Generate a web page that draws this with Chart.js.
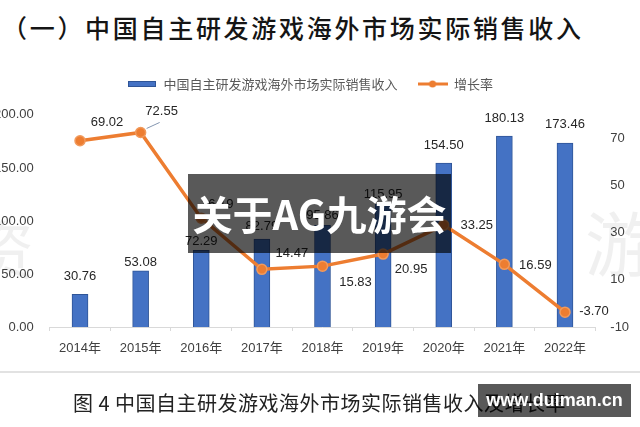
<!DOCTYPE html>
<html>
<head>
<meta charset="utf-8">
<script src="https://cdn.jsdelivr.net/npm/chart.js@4/dist/chart.umd.min.js"></script>
<style>
  html, body { margin:0; padding:0; background:#fff; width:640px; height:427px; overflow:hidden; position:relative; }
  #title { position:absolute; left:2px; top:9px; font-family:"Noto Sans CJK SC"; font-weight:500; font-size:25px; letter-spacing:2.7px; color:#151515; white-space:nowrap; line-height:36px; }
  #chart { position:absolute; left:-12px; top:0; }
  #sep { position:absolute; left:0; top:371px; width:640px; height:2px; background:#e2e2e2; }
  #caption { position:absolute; left:73px; top:389px; font-family:"Noto Sans CJK SC"; font-weight:400; font-size:20px; color:#222; white-space:nowrap; line-height:28px; letter-spacing:0.5px; }
  .wm { position:absolute; font-family:"Noto Sans CJK SC"; color:rgba(0,0,0,0.06); }
  #band { position:absolute; left:188px; top:174px; width:263px; height:79px; background:rgba(0,0,0,0.65); }
  #bandText { position:absolute; left:188px; top:174px; width:263px; height:79px; line-height:79px; text-align:center; font-family:"Noto Sans CJK SC"; font-weight:700; font-size:40px; color:#fff; white-space:nowrap; }
  #site { position:absolute; left:478px; top:384px; width:153px; height:33px; background:rgba(0,0,0,0.65); color:#fff; font-family:"Liberation Sans"; font-weight:700; font-size:18px; line-height:33px; text-align:center; }
</style>
</head>
<body>
<div id="title">（一）中国自主研发游戏海外市场实际销售收入</div>
<div class="wm" style="left:585px; top:190px; font-size:70px;">游</div>
<div class="wm" style="left:-30px; top:200px; font-size:64px;">资</div>
<canvas id="chart" width="660" height="427" style="width:660px;height:427px;"></canvas>
<div id="sep"></div>
<div id="caption">图 4 中国自主研发游戏海外市场实际销售收入及增长率</div>
<div id="band"></div>
<div id="bandText">关于AG九游会</div>
<div id="site">www.duiman.cn</div>
<script>
// ---- data ----
const years = ['2014年','2015年','2016年','2017年','2018年','2019年','2020年','2021年','2022年'];
const revenue = [30.76, 53.08, 72.29, 82.79, 95.86, 115.95, 154.50, 180.13, 173.46];
const growth = [69.02, 72.55, 36.19, 14.47, 15.83, 20.95, 33.25, 16.59, -3.70];
const revenueName = '中国自主研发游戏海外市场实际销售收入';
const growthName = '增长率';
const leftTicks = [0, 50, 100, 150, 200];
const rightTicks = [-10, 10, 30, 50, 70];

// ---- styling ----
const BLUE = '#4472C4', BLUE_DARK = '#2F5597', ORANGE = '#ED7D31';
const NUM_FONT = '"Liberation Sans", "Noto Sans CJK SC", sans-serif';

// label placement (pixel offsets relative to marks)
const barLabelGap = [18, 8, 9, 13, 10, 10, 18, 18, 19];
const lineLabelOffset = [[27,-18],[21,-21],[16,-14],[30,-16],[33,16],[28,15],[33,0],[31,1],[29,-1]];

function makeSwatch(kind) {
  const c = document.createElement('canvas');
  c.width = 30; c.height = 12;
  const g = c.getContext('2d');
  if (kind === 'bar') {
    g.fillStyle = BLUE; g.fillRect(1, 3, 28, 6);
    g.strokeStyle = BLUE_DARK; g.lineWidth = 1; g.strokeRect(1.5, 3.5, 27, 5);
  } else {
    g.strokeStyle = ORANGE; g.lineWidth = 3;
    g.beginPath(); g.moveTo(0, 6); g.lineTo(30, 6); g.stroke();
    g.fillStyle = ORANGE; g.beginPath(); g.arc(15, 6, 3.5, 0, Math.PI*2); g.fill();
  }
  return c;
}
const barSwatch = makeSwatch('bar');
const lineSwatch = makeSwatch('line');

const labelPlugin = {
  id: 'valueLabels',
  afterDatasetsDraw(chart) {
    const ctx = chart.ctx;
    ctx.save();
    ctx.font = '13px ' + NUM_FONT;
    ctx.fillStyle = '#262626';
    ctx.textAlign = 'center';
    ctx.textBaseline = 'middle';
    const barMeta = chart.getDatasetMeta(0);
    barMeta.data.forEach((el, i) => {
      ctx.fillText(revenue[i].toFixed(2), el.x, el.y - barLabelGap[i]);
    });
    const lineMeta = chart.getDatasetMeta(1);
    lineMeta.data.forEach((el, i) => {
      const o = lineLabelOffset[i];
      ctx.fillText(growth[i].toFixed(2), el.x + o[0], el.y + o[1]);
    });
    // small leader line for the 2015 label
    const p = lineMeta.data[1];
    ctx.strokeStyle = '#8496B0'; ctx.lineWidth = 1;
    ctx.beginPath(); ctx.moveTo(p.x + 6, p.y - 4); ctx.lineTo(p.x + 19, p.y - 10); ctx.stroke();
    ctx.restore();
  }
};

new Chart(document.getElementById('chart'), {
  data: {
    labels: years,
    datasets: [
      {
        type: 'bar', label: revenueName, data: revenue, yAxisID: 'y', order: 1,
        backgroundColor: BLUE, borderColor: BLUE_DARK, borderWidth: 1,
        barThickness: 16
      },
      {
        type: 'line', label: growthName, data: growth, yAxisID: 'y1', order: 0,
        borderColor: ORANGE, borderWidth: 3.5, tension: 0,
        pointRadius: 5, pointBackgroundColor: ORANGE, pointBorderColor: '#F19A5C', pointBorderWidth: 1.5
      }
    ]
  },
  options: {
    responsive: false,
    animation: false,
    devicePixelRatio: 1,
    layout: { padding: { top: 57.5, left: 0, right: 16, bottom: 65 } },
    plugins: {
      tooltip: { enabled: false },
      subtitle: { display: true, text: ' ', position: 'top', weight: 500, padding: 0, font: { size: 12 } },
      legend: {
        position: 'top',
        labels: {
          usePointStyle: true, pointStyleWidth: 30, padding: 20,
          font: { family: '"Noto Sans CJK SC", sans-serif', size: 13 },
          color: '#595959',
          generateLabels(chart) {
            return [
              { text: revenueName, pointStyle: barSwatch, datasetIndex: 0, fontColor: '#595959', lineWidth: 0, hidden: false },
              { text: growthName, pointStyle: lineSwatch, datasetIndex: 1, fontColor: '#595959', lineWidth: 0, hidden: false }
            ];
          }
        }
      }
    },
    scales: {
      x: {
        grid: { display: true, offset: true, drawOnChartArea: false, drawTicks: true, tickLength: 4, color: '#d9d9d9' },
        border: { display: true, color: '#d9d9d9', width: 1 },
        ticks: { font: { family: NUM_FONT, size: 13 }, color: '#404040', padding: 10, maxRotation: 0 },
        afterFit(s) { s.height = 35; }
      },
      y: {
        position: 'left', min: 0, max: 200,
        grid: { display: false, drawTicks: false },
        border: { display: false },
        ticks: { stepSize: 50, padding: 16, font: { family: NUM_FONT, size: 13 }, color: '#404040',
                 callback: v => Number(v).toFixed(2) },
        afterBuildTicks(s) { s.ticks = leftTicks.map(v => ({ value: v })); },
        afterFit(s) { s.width = 61.7; }
      },
      y1: {
        position: 'right', min: -10, max: 80,
        grid: { display: false, drawTicks: false },
        border: { display: false },
        ticks: { padding: 15, font: { family: NUM_FONT, size: 13 }, color: '#404040',
                 callback: v => String(v) },
        afterBuildTicks(s) { s.ticks = rightTicks.map(v => ({ value: v })); },
        afterFit(s) { s.width = 36.7; }
      }
    }
  },
  plugins: [labelPlugin]
});
</script>
</body>
</html>
